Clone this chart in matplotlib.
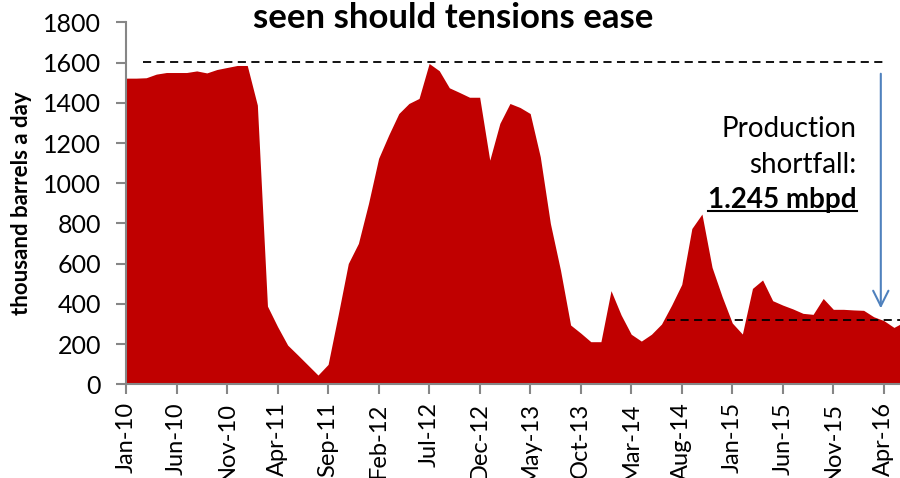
"""Libya-style oil production area chart with shortfall annotation."""

import matplotlib

matplotlib.use("Agg")
import matplotlib.pyplot as plt
import pandas as pd
from matplotlib.lines import Line2D

plt.rcParams["font.family"] = ["Lato", "DejaVu Sans"]

# monthly production, thousand barrels a day, Jan-10 onwards
production = [
    1523, 1523, 1525, 1543, 1551, 1551, 1551, 1559, 1549, 1566, 1576, 1586,
    1586, 1389, 389, 287, 195, 146, 96, 46, 99, 346, 601, 701,
    900, 1124, 1240, 1347, 1397, 1422, 1596, 1560, 1475, 1452, 1428, 1428,
    1115, 1298, 1397, 1377, 1347, 1132, 800, 568, 295, 255, 212, 212,
    466, 345, 249, 215, 249, 300, 394, 497, 775, 847, 582, 436,
    305, 250, 477, 519, 416, 394, 375, 353, 348, 427, 373, 373,
    370, 368, 336, 317, 283, 310,
]
months = pd.date_range("2010-01-01", periods=len(production), freq="MS")
month_labels = [m.strftime("%b-%y") for m in months]

capacity_level = 1605
current_level = 320
y_ticks = [0, 200, 400, 600, 800, 1000, 1200, 1400, 1600, 1800]

RED = "#C00000"
GREY = "#868686"
BLUE = "#4F81BD"

fig = plt.figure(figsize=(9, 4.78), dpi=100)
ax = fig.add_axes([0.14, 0.196, 0.86, 0.757])

x = list(range(len(production)))
ax.fill_between(x, production, 0, color=RED, lw=0)

ax.set_xlim(0, 76.6)
ax.set_ylim(0, 1800)
ax.set_yticks(y_ticks)
ax.set_yticklabels([str(v) for v in y_ticks])
tick_pos = x[::5]
ax.set_xticks(tick_pos)
ax.set_xticklabels([month_labels[i] for i in tick_pos], rotation=90)

for side in ("top", "right"):
    ax.spines[side].set_visible(False)
for side in ("left", "bottom"):
    ax.spines[side].set_color(GREY)
    ax.spines[side].set_linewidth(1.5)
ax.tick_params(axis="both", colors=GREY, width=1.5, length=7, labelcolor="black")
ax.tick_params(axis="y", pad=11, labelsize=18)
ax.tick_params(axis="x", pad=6, labelsize=17)

ax.set_ylabel("thousand barrels a day", fontsize=16, fontweight="bold", labelpad=8)

# reference levels
ax.plot([1.7, 75.0], [capacity_level, capacity_level], color="black", lw=1.3,
        dashes=(4.5, 3), clip_on=False)
ax.plot([53.5, 77.0], [current_level, current_level], color="black", lw=1.3,
        dashes=(4.5, 3), clip_on=False)

ax.annotate("", xy=(74.7, 378), xytext=(74.7, 1545),
            arrowprops=dict(arrowstyle="->,head_length=1.1,head_width=0.55",
                            color=BLUE, lw=1.5, shrinkA=0, shrinkB=0))

ax.text(72.3, 1230, "Production", ha="right", va="baseline", fontsize=20)
ax.text(72.3, 1051, "shortfall:", ha="right", va="baseline", fontsize=20)
amount = ax.text(72.3, 877, "1.245 mbpd", ha="right", va="baseline",
                 fontsize=20, fontweight="bold")

fig.text(0.503, 0.941, "seen should tensions ease", ha="center", va="baseline",
         fontsize=25, fontweight="bold")

# underline the shortfall figure
fig.canvas.draw()
bb = amount.get_window_extent()
inv = ax.transData.inverted()
(x0, _), (x1, _) = inv.transform([(bb.x0, 0), (bb.x1, 0)])
ax.add_line(Line2D([x0, x1], [862, 862], color="black", lw=1.5))

fig.savefig("out.png", dpi=100)
